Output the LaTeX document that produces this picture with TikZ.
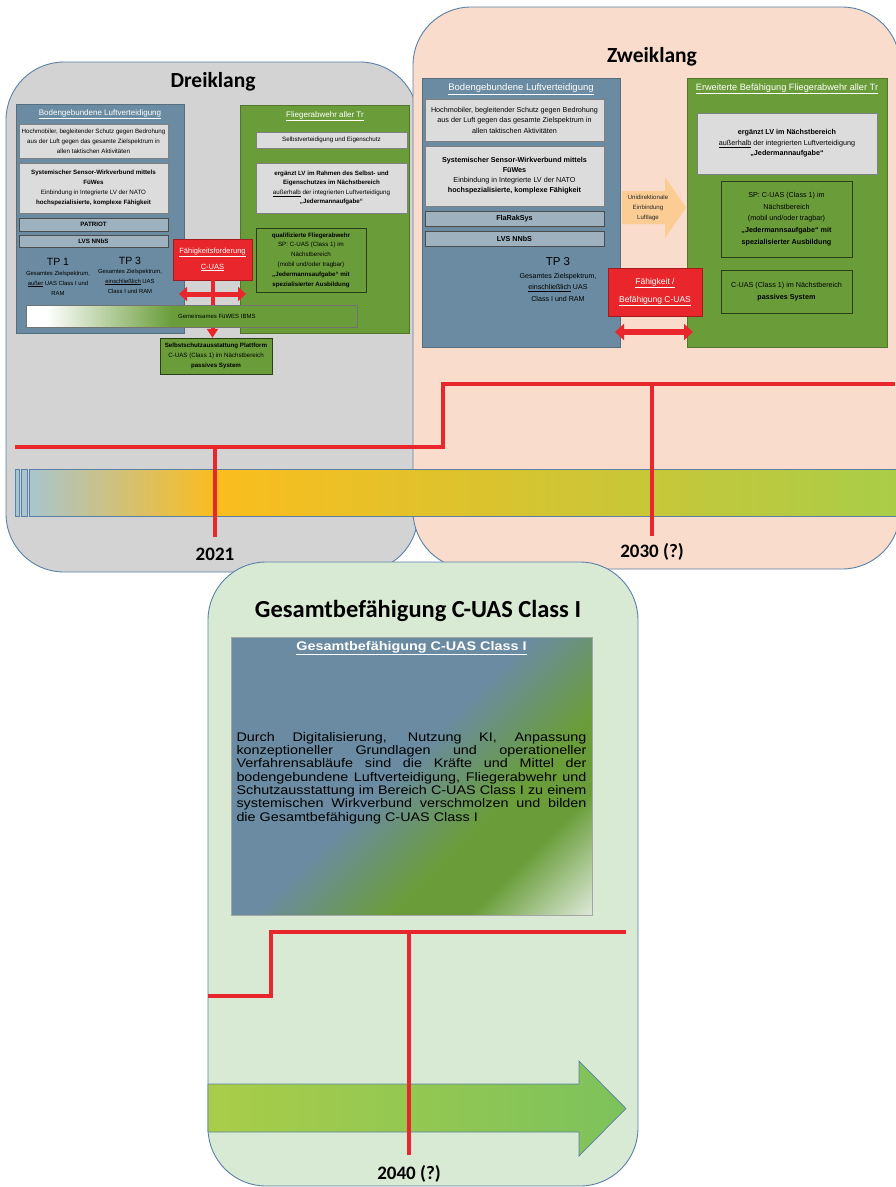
\documentclass[tikz,border=0pt]{standalone}
\usepackage{fontspec}
\setmainfont{Liberation Sans}
\newfontfamily\calib{Carlito}
\newfontfamily\widesans[FakeStretch=1.15]{Liberation Sans}
\usetikzlibrary{arrows.meta,shadows}

\definecolor{panelgray}{HTML}{D3D3D3}
\definecolor{panelpeach}{HTML}{F9DCCB}
\definecolor{panelgreen}{HTML}{D9EAD4}
\definecolor{paneledge}{HTML}{5B80A8}
\definecolor{boxblue}{HTML}{6A8BA1}
\definecolor{boxgreen}{HTML}{6A9D3A}
\definecolor{boxgray}{HTML}{DCDCDC}
\definecolor{barblue}{HTML}{9DB1BE}
\definecolor{cred}{HTML}{E8262B}
\definecolor{corange}{HTML}{FBCC94}
\definecolor{tlblue}{HTML}{A9C5CE}
\definecolor{tlorange}{HTML}{FBBD1E}
\definecolor{tlgreen}{HTML}{A9CD48}
\definecolor{arrgreen}{HTML}{7DC25C}
\definecolor{gesend}{HTML}{E2EBDF}

\pgfdeclarehorizontalshading{gemshade}{100bp}{color(0bp)=(white); color(28bp)=(white); color(47bp)=(boxgreen); color(100bp)=(boxgreen)}
\pgfdeclarehorizontalshading{gesshade}{100bp}{color(0bp)=(boxblue); color(48bp)=(boxblue); color(63bp)=(boxgreen); color(72bp)=(boxgreen); color(86bp)=(gesend); color(100bp)=(gesend)}

\tikzset{
  panel/.style={draw=paneledge, line width=0.9pt, rounded corners=58pt},
  paneltitle/.style={font=\calib\bfseries\fontsize{21.5}{21.5}\selectfont},
  yearlabel/.style={font=\calib\bfseries\fontsize{19}{19}\selectfont},
  shad/.style={drop shadow={shadow xshift=1.2pt, shadow yshift=-1.2pt, opacity=.45}},
  bluebox/.style={fill=boxblue, draw=boxblue!80!black, inner sep=0pt, shad},
  greenbox/.style={fill=boxgreen, draw=boxgreen!75!black, inner sep=0pt, shad},
  boxtitle/.style={text=white, inner sep=0pt},
  smalltext/.style={align=center, inner sep=1pt, font=\fontsize{6.2}{9.8}\selectfont},
  righttext/.style={align=center, inner sep=1pt, font=\fontsize{7.2}{10.5}\selectfont},
  graybox/.style={fill=boxgray, draw=gray, shad},
  barbox/.style={fill=barblue, draw=gray!60!black, inner sep=0pt, shad},
  ingreen/.style={fill=boxgreen, draw=black!60!boxgreen, shad},
  reqbox/.style={fill=cred, draw=cred!70!black, text=white, align=center, inner sep=0pt, shad},
  redline/.style={draw=cred, line width=3.4pt},
  tlbar/.style={draw=paneledge, line width=0.7pt},
}

\begin{document}
\begin{tikzpicture}[x=1pt,y=-1pt]
\useasboundingbox[fill=white] (0,0) rectangle (895,1187);

\draw[panel, fill=panelgray] (6,62) rectangle (418,572);
\draw[panel, fill=panelpeach] (413,7) rectangle (900,569);
\node[paneltitle] (dreititle) at (213,82) {Dreiklang};
\node[paneltitle] (zweititle) at (652,57) {Zweiklang};

\node[bluebox, minimum width=168pt, minimum height=229pt] (lbodeng) at (100,218.5) {};
\node[boxtitle, font=\fontsize{8}{8}\selectfont] (lbodtitle) at (100,114) {\underline{Bodengebundene Luftverteidigung}};
\node[graybox, smalltext, minimum width=149pt, minimum height=34pt] (lhoch) at (93.5,141)
  {Hochmobiler, begleitender Schutz gegen Bedrohung\\aus der Luft gegen das gesamte Zielspektrum in\\allen taktischen Aktivitäten};
\node[graybox, smalltext, minimum width=149pt, minimum height=50pt] (lsys) at (93.5,188)
  {\textbf{Systemischer Sensor-Wirkverbund mittels}\\\textbf{FüWes}\\Einbindung in Integrierte LV der NATO\\\textbf{hochspezialisierte, komplexe Fähigkeit}};
\node[barbox, font=\fontsize{6.2}{7}\bfseries, minimum width=149pt, minimum height=13pt] (lpat) at (93.5,224.5) {PATRIOT};
\node[barbox, font=\fontsize{6.2}{7}\bfseries, minimum width=149pt, minimum height=12pt] (llvs) at (93.5,241) {LVS NNbS};
\node[font=\fontsize{10.5}{10.5}\selectfont, inner sep=0pt] (ltpa) at (58,262) {TP 1};
\node[smalltext, font=\fontsize{5.9}{10}\selectfont] (ltpatxt) at (58,283)
  {Gesamtes Zielspektrum,\\\underline{außer} UAS Class I und\\RAM};
\node[font=\fontsize{10.5}{10.5}\selectfont, inner sep=0pt] (ltpc) at (130,261) {TP 3};
\node[smalltext, font=\fontsize{5.9}{10}\selectfont] (ltpctxt) at (130,281)
  {Gesamtes Zielspektrum,\\\underline{einschließlich} UAS\\Class I und RAM};

\node[greenbox, minimum width=169pt, minimum height=228pt] (lflak) at (324.5,219) {};
\node[boxtitle, font=\fontsize{8}{8}\selectfont] (lflaktitle) at (325,116) {\underline{Fliegerabwehr aller Tr}};
\node[graybox, smalltext, minimum width=151pt, minimum height=16pt] (lselbst) at (331.5,140) {Selbstverteidigung und Eigenschutz};
\node[graybox, smalltext, font=\fontsize{6.2}{9.5}\selectfont, minimum width=151pt, minimum height=50pt] (lerg) at (331.5,188)
  {\textbf{ergänzt LV im Rahmen des Selbst- und}\\\textbf{Eigenschutzes im Nächstbereich}\\\underline{außerhalb} der integrierten Luftverteidigung\\\textbf{„Jedermannaufgabe“}};
\node[ingreen, smalltext, minimum width=110pt, minimum height=64pt] (lqual) at (311,260)
  {\textbf{qualifizierte Fliegerabwehr}\\SP: C-UAS (Class 1) im\\Nächstbereich\\(mobil und/oder tragbar)\\\textbf{„Jedermannsaufgabe“ mit}\\\textbf{spezialisierter Ausbildung}};

\node[reqbox, font=\fontsize{7.5}{16}\selectfont, minimum width=79pt, minimum height=41pt] (lreq) at (212.5,259.5)
  {\underline{Fähigkeitsforderung}\\\underline{C-UAS}};
\node[ingreen, smalltext, minimum width=112pt, minimum height=36pt] (lself) at (216,356)
  {\textbf{Selbstschutzausstattung Plattform}\\C-UAS (Class 1) im Nächstbereich\\\textbf{passives System}};
\draw[cred, line width=4pt, -{Triangle[length=9pt,width=11pt]}] (lreq.south) -- (lreq.south |- lself.north);
\coordinate (ldl) at (179,294);
\coordinate (ldr) at (246,294);
\draw[cred, line width=5pt, {Triangle[length=8pt,width=14pt]}-{Triangle[length=8pt,width=14pt]}] (ldl) -- (ldr);
\node[shade, shading=gemshade, draw=black!55, minimum width=331pt, minimum height=22pt, inner sep=0pt, shad] (lgem) at (191.5,316) {};
\node[anchor=west, font=\fontsize{6}{6}\selectfont, inner sep=0pt] (lgemtxt) at (178,316) {Gemeinsames FüWES IBMS};

\node[bluebox, minimum width=198pt, minimum height=269pt] (rbodeng) at (521,212.5) {};
\node[boxtitle, font=\fontsize{9.5}{9.5}\selectfont] (rbodtitle) at (521,89) {\underline{Bodengebundene Luftverteidigung}};
\node[graybox, righttext, minimum width=179pt, minimum height=42pt] (rhoch) at (514.5,120)
  {Hochmobiler, begleitender Schutz gegen Bedrohung\\aus der Luft gegen das gesamte Zielspektrum in\\allen taktischen Aktivitäten};
\node[graybox, righttext, font=\fontsize{7.2}{10}\selectfont, minimum width=179pt, minimum height=60pt] (rsys) at (514.5,176)
  {\textbf{Systemischer Sensor-Wirkverbund mittels}\\\textbf{FüWes}\\Einbindung in Integrierte LV der NATO\\\textbf{hochspezialisierte, komplexe Fähigkeit}};
\node[barbox, font=\fontsize{7.2}{8}\bfseries, minimum width=179pt, minimum height=15pt] (rfla) at (514.5,219) {FlaRakSys};
\node[barbox, font=\fontsize{7.2}{8}\bfseries, minimum width=179pt, minimum height=15pt] (rlvs) at (514.5,238.5) {LVS NNbS};
\node[font=\fontsize{11.5}{11.5}\selectfont, inner sep=0pt] (rtpc) at (558,262) {TP 3};
\node[righttext, font=\fontsize{7.1}{11.5}\selectfont] (rtpctxt) at (558,287)
  {Gesamtes Zielspektrum,\\\underline{einschließlich} UAS\\Class I und RAM};

\node[greenbox, minimum width=200pt, minimum height=269pt] (rerw) at (787,212.5) {};
\node[boxtitle, font=\fontsize{9.2}{9.2}\selectfont] (rerwtitle) at (787,89) {\underline{Erweiterte Befähigung Fliegerabwehr aller Tr}};
\node[graybox, righttext, minimum width=180pt, minimum height=61pt] (rerg) at (787,143.5)
  {\textbf{ergänzt LV im Nächstbereich}\\\underline{außerhalb} der integrierten Luftverteidigung\\\textbf{„Jedermannaufgabe“}};
\node[ingreen, righttext, font=\fontsize{7.2}{11.6}\selectfont, minimum width=131pt, minimum height=76pt] (rsp) at (786.5,219)
  {SP: C-UAS (Class 1) im\\Nächstbereich\\(mobil und/oder tragbar)\\\textbf{„Jedermannsaufgabe“ mit}\\\textbf{spezialisierter Ausbildung}};
\node[ingreen, righttext, font=\fontsize{7.2}{12}\selectfont, minimum width=131pt, minimum height=43pt] (rpas) at (786.5,291.5)
  {C-UAS (Class 1) im Nächstbereich\\\textbf{passives System}};

\fill[corange] (622,191) -- (665,191) -- (665,177) -- (686,207.5) -- (665,238) -- (665,224) -- (622,224) -- cycle;
\node[align=center, text=black!85, font=\fontsize{6.1}{10}\selectfont, inner sep=0pt] (runi) at (648,208)
  {Unidirektionale\\Einbindung\\Luftlage};
\node[reqbox, font=\fontsize{8.5}{18}\selectfont, minimum width=94pt, minimum height=48pt] (rreq) at (655,292)
  {\underline{Fähigkeit /}\\\underline{Befähigung C-UAS}};
\coordinate (rdl) at (615,332);
\coordinate (rdr) at (693,332);
\draw[cred, line width=6pt, {Triangle[length=9pt,width=16pt]}-{Triangle[length=9pt,width=16pt]}] (rdl) -- (rdr);

\coordinate (tlstart) at (15,447);
\coordinate (tlstepa) at (443,447);
\coordinate (tlstepb) at (443,384);
\coordinate (tlend) at (895,384);
\draw[redline] (tlstart) -- (tlstepa) -- (tlstepb) -- (tlend);
\draw[tlbar, fill=tlblue] (15,469) rectangle (19,516);
\draw[tlbar, fill=tlblue] (21,469) rectangle (27,516);
\path[left color=tlblue, right color=tlorange] (29,469) rectangle (215,516);
\path[left color=tlorange, right color=tlgreen] (215,469) rectangle (900,516);
\draw[tlbar] (29,469) rectangle (900,516);
\coordinate (ticka) at (215,447);
\coordinate (tickaend) at (215,537);
\coordinate (tickb) at (652,384);
\coordinate (tickbend) at (652,536);
\draw[redline] (ticka) -- (tickaend);
\draw[redline] (tickb) -- (tickbend);
\node[yearlabel] (yeara) at (215,554) {2021};
\node[yearlabel] (yearb) at (652,552) {2030 (?)};

\draw[panel, fill=panelgreen] (208,562) rectangle (638,1186);
\node[paneltitle, font=\calib\bfseries\fontsize{24.5}{24.5}\selectfont] (gestitle) at (418,611) {Gesamtbefähigung C-UAS Class I};
\node[shade, shading=gesshade, shading angle=-45, draw=gray!70, minimum width=361pt, minimum height=278pt, shad] (gesbox) at (411.5,776) {};
\node[text=white, font=\widesans\bfseries\fontsize{12.5}{12.5}\selectfont, inner sep=0pt] (gesboxtitle) at (411.5,648)
  {\underline{Gesamtbefähigung C-UAS Class I}};
\node[align=left, inner sep=0pt, font=\widesans\fontsize{12.5}{13.35}\selectfont] (gesboxtxt) at (411.5,778)
  {\makebox[350pt][s]{Durch Digitalisierung, Nutzung KI, Anpassung}\\
   \makebox[350pt][s]{konzeptioneller Grundlagen und operationeller}\\
   \makebox[350pt][s]{Verfahrensabläufe sind die Kräfte und Mittel der}\\
   \makebox[350pt][s]{bodengebundene Luftverteidigung, Fliegerabwehr und}\\
   \makebox[350pt][s]{Schutzausstattung im Bereich C-UAS Class I zu einem}\\
   \makebox[350pt][s]{systemischen Wirkverbund verschmolzen und bilden}\\
   \makebox[350pt][l]{die Gesamtbefähigung C-UAS Class I}};

\coordinate (glstart) at (208,996);
\coordinate (glstepa) at (271,996);
\coordinate (glstepb) at (271,932);
\coordinate (glend) at (626,932);
\draw[redline] (glstart) -- (glstepa) -- (glstepb) -- (glend);
\path[draw=paneledge, line width=0.7pt, left color=tlgreen, right color=arrgreen]
  (208,1084) -- (579,1084) -- (579,1061) -- (626,1108.5) -- (579,1156) -- (579,1132) -- (208,1132) -- cycle;
\coordinate (tickc) at (409,932);
\coordinate (tickcend) at (409,1155);
\draw[redline] (tickc) -- (tickcend);
\node[yearlabel] (yearc) at (409,1174) {2040 (?)};
\end{tikzpicture}
\end{document}
